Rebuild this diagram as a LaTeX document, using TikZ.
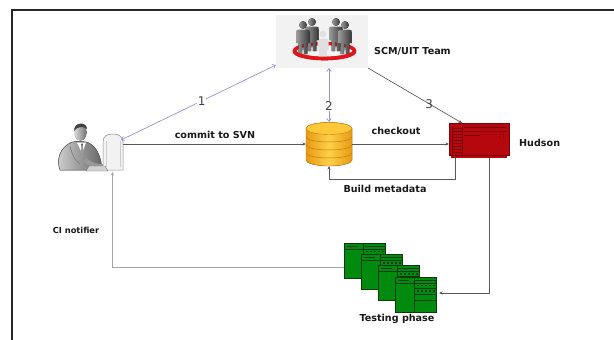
\documentclass[tikz,border=0pt]{standalone}
\usepackage{fontspec}
\newfontfamily\lblfont{DejaVu Sans}
\usetikzlibrary{arrows.meta,calc}
\definecolor{lav}{HTML}{9C8ED4}
\definecolor{srvgreen}{HTML}{008A0E}
\definecolor{srvline}{HTML}{0B3A0B}
\definecolor{hudred}{HTML}{B5070E}
\definecolor{huddark}{HTML}{7E0308}
\definecolor{dbdark}{HTML}{E49A12}
\definecolor{dblight}{HTML}{FFD04A}
\definecolor{dbtop}{HTML}{FFC83A}
\definecolor{dbedge}{HTML}{C97A08}
\definecolor{ringred}{HTML}{E0141B}

\tikzset{
  server/.pic={
    \fill[srvgreen] (0,0) rectangle (41,35);
    \draw[srvline, line width=0.5pt] (0,0) rectangle (41,35)
      (19,0) -- (19,35) (0,6) -- (19,6) (3,3) -- (14,3)
      (19,3) -- (41,3) (19,6) -- (41,6) (19,11) -- (41,11)
      (19,17) -- (41,17) (19,23) -- (41,23);
    \foreach \i in {22,26,...,38} {
      \fill[srvline] (\i,7.6) rectangle ++(1.6,1.8);
      \fill[srvline] (\i,13.2) rectangle ++(1.6,1.8);
    }
  },
  member/.pic={
    \fill[left color=black!40, right color=black!78] (0,0) circle (3.8);
    \fill[left color=black!40, right color=black!78]
      (-6.5,7.5) .. controls (-6.5,4.8) .. (-3.8,4.8) -- (3.8,4.8)
      .. controls (6.5,4.8) .. (6.5,7.5) -- (6.5,18) -- (4.4,18) -- (4.4,29) -- (0.9,29)
      -- (0.5,19) -- (-0.5,19) -- (-0.9,29) -- (-4.4,29) -- (-4.4,18) -- (-6.5,18) -- cycle;
  },
  ghost/.pic={
    \fill[black!12] (0,0) circle (3.4);
    \fill[black!12]
      (-5.5,7) .. controls (-5.5,4.5) .. (-3.3,4.5) -- (3.3,4.5)
      .. controls (5.5,4.5) .. (5.5,7) -- (5.5,16) -- (3.8,16) -- (3.8,24)
      -- (-3.8,24) -- (-3.8,16) -- (-5.5,16) -- cycle;
  }
}

\begin{document}
\begin{tikzpicture}[x=1pt,y=-1pt,
  holder/.style={inner sep=0pt, outer sep=0pt},
  lbl/.style={font=\lblfont\bfseries\fontsize{9.6}{11}\selectfont, text=black!90, inner sep=1pt},
  smalllbl/.style={font=\lblfont\bfseries\fontsize{8.3}{10}\selectfont, text=black!90, inner sep=1pt},
  num/.style={font=\lblfont\fontsize{12}{14}\selectfont, text=black!75, fill=white, inner sep=0.5pt},
  flow/.style={draw=black!65, line width=0.6pt, -{Stealth[length=3.5pt,width=3pt]}},
  lavflow/.style={draw=lav, line width=0.7pt,
    {Straight Barb[length=3pt,width=4.5pt]}-{Straight Barb[length=3pt,width=4.5pt]}},
  notify/.style={draw=black!35, line width=0.9pt, -{Stealth[length=3.5pt,width=3pt,fill=black]}}
]
\useasboundingbox (0,0) rectangle (614,340);
\fill[white] (0,0) rectangle (614,340);

% page frame
\draw[line width=1.6pt, black!85] (12,340) -- (12,10) -- (614,10);

% ---------- SCM/UIT team ----------
\node[holder, minimum width=92pt, minimum height=53pt] (team) at (322,41.5) {};
\fill[black!5] (276,15) rectangle (368,68);
\draw[ringred, line width=3.6pt] (324.5,51) ellipse [x radius=30, y radius=7.5];
\pic at (323,34) {ghost};
\pic at (312,22) {member};
\pic at (303,25) {member};
\pic at (336,22) {member};
\pic at (345,25) {member};
\draw[ringred, line width=3.6pt] (294.5,51) arc[start angle=180, end angle=0, x radius=30, y radius=7.5];
\node[lbl, anchor=west] (teamlbl) at (373,51) {SCM/UIT Team};

% ---------- developer at the workstation ----------
\node[holder, minimum width=66pt, minimum height=49pt] (user) at (90,147.5) {};
\node[holder, minimum width=21pt, minimum height=37pt] (pc) at (112.5,153.5) {};
\filldraw[left color=black!18, right color=black!60, draw=black!65, line width=0.5pt]
  (60,170) .. controls (56,160) and (60,148) .. (70,143)
  .. controls (74,141) and (80,141) .. (86,142)
  .. controls (94,144) and (99,152) .. (101,162) -- (102,170) -- cycle;
\fill[white] (77,142.5) -- (86,142.5) -- (82,153) -- cycle;
\fill[black!60] (81.2,143.5) -- (82.8,143.5) -- (82.6,151) -- (82,153) -- (81.4,151) -- cycle;
\draw[black!55, line width=0.5pt] (70,146) .. controls (72,154) and (74,160) .. (80,164);
\fill[black!40] (86,158) .. controls (92,163) and (99,165) .. (105,164)
  -- (105,167.5) .. controls (97,169) and (89,167) .. (84,162) -- cycle;
\fill[left color=black!15, right color=black!55] (80.5,132.5) ellipse [x radius=6, y radius=8];
\fill[black!75] (74.3,131) .. controls (73,122) and (87,121) .. (87,129)
  .. controls (84,126) and (77,126) .. (74.3,131) -- cycle;
\filldraw[fill=black!5, draw=black!45, line width=0.5pt]
  (103,170) -- (103,142) .. controls (103,136) and (107,134) .. (113,134)
  .. controls (119,134) and (123,137) .. (123,142) -- (123,170) -- cycle;
\draw[black!20, line width=0.5pt] (106,141) -- (106,167) (120,141) -- (120,167);
\filldraw[fill=black!18, draw=black!55, line width=0.4pt]
  (89,166) -- (105,166) -- (108,171) -- (86,171) -- cycle;

% ---------- SVN repository ----------
\node[holder, minimum width=46pt, minimum height=44pt] (db) at (329,144) {};
\filldraw[left color=dbdark, right color=dbdark, middle color=dblight, draw=dbedge, line width=0.4pt]
  (306,128.5) -- (306,160) arc[start angle=180, end angle=0, x radius=23, y radius=6]
  -- (352,128.5) arc[start angle=0, end angle=-180, x radius=23, y radius=6] -- cycle;
\foreach \b in {137,145,153}
  \draw[dbedge, line width=0.5pt] (306,\b) arc[start angle=180, end angle=0, x radius=23, y radius=5];
\filldraw[fill=dbtop, draw=dbedge, line width=0.4pt] (329,128.5) ellipse [x radius=23, y radius=6];

% ---------- Hudson server ----------
\node[holder, minimum width=60pt, minimum height=35pt] (hudson) at (479,140.5) {};
\fill[hudred] (449,123) rectangle (509,155);
\fill[hudred] (451,155) rectangle (507,158);
\draw[huddark, line width=0.4pt] (449,123) rectangle (509,155)
  (452,126) -- (452,155) (462,126) -- (462,155);
\foreach \h in {128,131,...,152}
  \draw[huddark, line width=0.35pt] (452,\h) -- (462,\h);
\draw[huddark, line width=0.35pt] (464,127) -- (506,127) (464,131) -- (506,131)
  (464,135) -- (480,135) (503,133) -- (503,138);
\node[lbl, anchor=west] (hudlbl) at (518,143) {Hudson};

% ---------- test servers ----------
\node[holder, minimum width=92pt, minimum height=69pt] (tests) at (390,277.5) {};
\pic at (344,243) {server};
\pic at (361,254.3) {server};
\pic at (378,265.6) {server};
\pic at (395,277) {server};
\node[lbl] (testlbl) at (397,319) {Testing phase};

% ---------- connectors ----------
\draw[lavflow] ([shift={(0,-3)}]team.south west) -- ([shift={(-2,5)}]pc.north east)
  node[num, pos=0.48] (n1) {1};
\draw[lavflow] (db.north |- team.south) -- (db.north)
  node[num, pos=0.7] (n2) {2};
\draw[flow, draw=black!70] (team.south east) -- ([shift={(13,0)}]hudson.north west)
  node[num, pos=0.65, fill=none] (n3) {3};

\draw[flow] (pc.east |- db.west) -- (db.west);
\node[lbl] (commitlbl) at (215,135) {commit to SVN};

\draw[flow] (db.east) -- (db.east -| hudson.west);
\node[lbl] (checklbl) at (396,131) {checkout};

\draw[flow] ([shift={(6,0)}]hudson.south west) -- ++(0,21) -| (db.south);
\node[lbl] (metalbl) at (385,189) {Build metadata};

\draw[flow] ([shift={(-20,0)}]hudson.south east) |- ([shift={(3,15.5)}]tests.east);

\draw[notify] ([shift={(0,-10.5)}]tests.west) -| (pc.south);
\node[smalllbl] (cilbl) at (76,230) {CI notifier};
\end{tikzpicture}
\end{document}
